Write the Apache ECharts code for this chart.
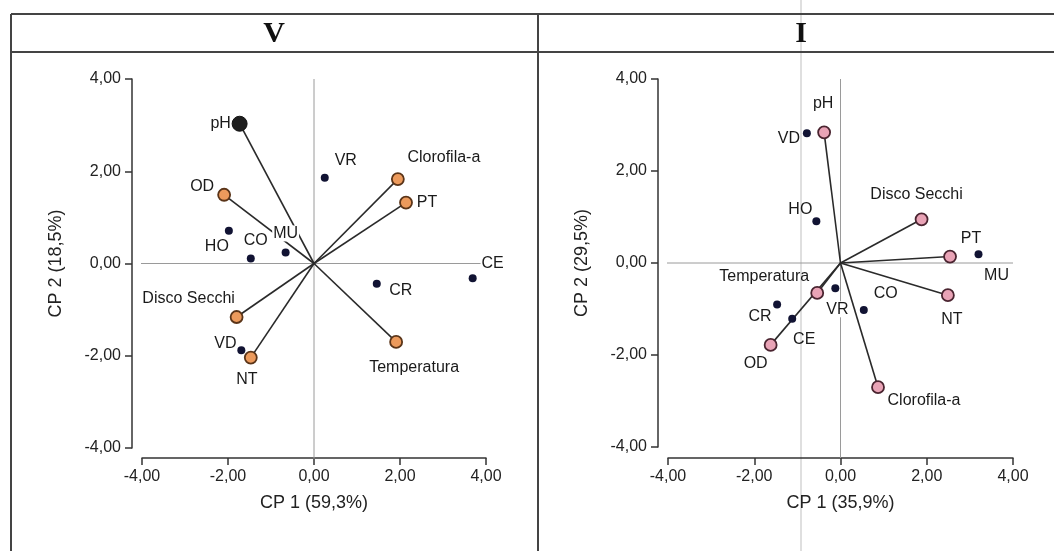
<!DOCTYPE html>
<html><head><meta charset="utf-8">
<script src="https://cdn.jsdelivr.net/npm/echarts@6/dist/echarts.min.js"></script>
<style>html,body{margin:0;padding:0;background:#fff}#c{width:1054px;height:551px}</style>
</head><body><div id="c"></div>
<script>
// ---------- data ----------
const panelTitles = ['V', 'I'];
const xTitles = ['CP 1 (59,3%)', 'CP 1 (35,9%)'];
const yTitles = ['CP 2 (18,5%)', 'CP 2 (29,5%)'];
const axisMin = -4, axisMax = 4, axisStep = 2;

// Panel V : variables (vectors) and sites
const varNamesV = ['pH', 'OD', 'Clorofila-a', 'PT', 'Disco Secchi', 'NT', 'Temperatura'];
const varXV = [-1.73, -2.09, 1.95, 2.14, -1.80, -1.47, 1.91];
const varYV = [3.03, 1.49, 1.83, 1.32, -1.16, -2.04, -1.70];
const siteNamesV = ['VR', 'HO', 'CO', 'MU', 'CR', 'CE', 'VD'];
const siteXV = [0.25, -1.98, -1.47, -0.66, 1.46, 3.69, -1.69];
const siteYV = [1.86, 0.71, 0.11, 0.24, -0.44, -0.32, -1.88];

// Panel I : variables (vectors) and sites
const varNamesI = ['pH', 'Disco Secchi', 'PT', 'NT', 'Clorofila-a', 'Temperatura', 'OD'];
const varXI = [-0.38, 1.88, 2.54, 2.49, 0.87, -0.54, -1.62];
const varYI = [2.84, 0.95, 0.14, -0.70, -2.70, -0.65, -1.78];
const siteNamesI = ['VD', 'HO', 'MU', 'VR', 'CO', 'CR', 'CE'];
const siteXI = [-0.78, -0.56, 3.20, -0.12, 0.54, -1.47, -1.12];
const siteYI = [2.82, 0.91, 0.19, -0.55, -1.02, -0.90, -1.21];

// reference lines at zero (extend to the offset axis lines)
const refLineExtent = [-4.24, 4];

// ---------- styles (positions of labels, colours) ----------
const labelOffsetV = {
  'pH': [-19, 0], 'OD': [-22, -8], 'Clorofila-a': [46, -21], 'PT': [21, 0],
  'Disco Secchi': [-48, -18], 'NT': [-4, 22], 'Temperatura': [18, 26],
  'VR': [21, -17], 'HO': [-12, 16], 'CO': [5, -18], 'MU': [0, -19],
  'CR': [24, 7], 'CE': [20, -15], 'VD': [-16, -7]
};
const labelOffsetI = {
  'pH': [-1, -29], 'Disco Secchi': [-5, -25], 'PT': [21, -18], 'NT': [4, 24],
  'Clorofila-a': [46, 13], 'Temperatura': [-53, -16], 'OD': [-15, 19],
  'VD': [-18, 5], 'HO': [-16, -12], 'MU': [18, 21], 'VR': [2, 21],
  'CO': [22, -16], 'CR': [-17, 12], 'CE': [12, 21]
};
const whiteBgV = ['MU', 'CE'];
const whiteBgI = ['VR'];
const FONT = "'Liberation Sans', Arial, sans-serif";
const varColor = ['#ec9a5c', '#e9a3b6'];
const varBorder = ['#5a3418', '#4a2430'];
const siteColor = '#111333';

const fmt = v => v.toFixed(2).replace('.', ',');

function panelSeries(idx, vNames, vX, vY, sNames, sX, sY, offs, whiteBg) {
  const series = [];
  // zero reference lines
  series.push({
    type: 'line', xAxisIndex: idx, yAxisIndex: idx, clip: false, silent: true,
    symbol: 'none', lineStyle: { color: '#9a9a9a', width: 1 },
    data: [[refLineExtent[0], 0], [refLineExtent[1], 0]], z: 1
  });
  series.push({
    type: 'line', xAxisIndex: idx, yAxisIndex: idx, clip: false, silent: true,
    symbol: 'none', lineStyle: { color: '#9a9a9a', width: 1 },
    data: [[0, refLineExtent[0]], [0, refLineExtent[1]]], z: 1
  });
  // vectors
  vNames.forEach((n, i) => {
    series.push({
      type: 'line', xAxisIndex: idx, yAxisIndex: idx, silent: true, clip: false,
      symbol: 'none', lineStyle: { color: '#2a2a2a', width: 1.6 },
      data: [[0, 0], [vX[i], vY[i]]], z: 2
    });
  });
  const mkLabel = (n) => {
    const l = {
      show: true, position: 'inside', offset: offs[n], formatter: n,
      fontFamily: FONT, fontSize: 16, color: '#1a1a1a', opacity: 1
    };
    if (whiteBg.includes(n)) { l.backgroundColor = '#fff'; l.padding = [0, 1]; }
    return l;
  };
  // variable points
  series.push({
    type: 'scatter', xAxisIndex: idx, yAxisIndex: idx, z: 4,
    data: vNames.map((n, i) => {
      const special = (idx === 0 && n === 'pH');
      return {
        name: n, value: [vX[i], vY[i]],
        symbolSize: special ? 15 : 12,
        itemStyle: special ? { color: '#1e1e1e', borderColor: '#111', borderWidth: 1, opacity: 1 }
          : { color: varColor[idx], borderColor: varBorder[idx], borderWidth: 1.8, opacity: 1 },
        label: mkLabel(n)
      };
    })
  });
  // site points
  series.push({
    type: 'scatter', xAxisIndex: idx, yAxisIndex: idx, z: 4,
    symbolSize: 8, itemStyle: { color: siteColor, opacity: 1 },
    data: sNames.map((n, i) => ({ name: n, value: [sX[i], sY[i]], label: mkLabel(n) }))
  });
  return series;
}

const axisCommon = {
  type: 'value', min: axisMin, max: axisMax, interval: axisStep,
  splitLine: { show: false },
  axisLine: { show: true, onZero: false, lineStyle: { color: '#333', width: 1.5 } },
  axisTick: { show: true, length: 7, lineStyle: { color: '#333', width: 1.5 } },
  axisLabel: { formatter: fmt, fontFamily: FONT, fontSize: 16, color: '#222', margin: 11 },
  nameLocation: 'middle',
  nameTextStyle: { fontFamily: FONT, fontSize: 18, color: '#222' }
};

const grids = [
  { left: 142, right: 568, top: 79, bottom: 103 },
  { left: 668, right: 41, top: 79, bottom: 104 }
];

const option = {
  backgroundColor: '#fff',
  animation: false,
  grid: grids,
  xAxis: [0, 1].map(i => Object.assign({}, axisCommon, {
    gridIndex: i, position: 'bottom', offset: i === 0 ? 10 : 11,
    name: xTitles[i], nameGap: 36
  })),
  yAxis: [0, 1].map(i => Object.assign({}, axisCommon, {
    gridIndex: i, position: 'left', offset: 10,
    name: yTitles[i], nameGap: 67
  })),
  series: [].concat(
    panelSeries(0, varNamesV, varXV, varYV, siteNamesV, siteXV, siteYV, labelOffsetV, whiteBgV),
    panelSeries(1, varNamesI, varXI, varYI, siteNamesI, siteXI, siteYI, labelOffsetI, whiteBgI)
  ),
  graphic: [
    { type: 'line', silent: true, z: 0, shape: { x1: 801, y1: 0, x2: 801, y2: 551 }, style: { stroke: '#d4d4d4', lineWidth: 1.5 } },
    { type: 'line', silent: true, shape: { x1: 11, y1: 14, x2: 1054, y2: 14 }, style: { stroke: '#444', lineWidth: 2 } },
    { type: 'line', silent: true, shape: { x1: 11, y1: 52, x2: 1054, y2: 52 }, style: { stroke: '#444', lineWidth: 2 } },
    { type: 'line', silent: true, shape: { x1: 11, y1: 14, x2: 11, y2: 551 }, style: { stroke: '#444', lineWidth: 2 } },
    { type: 'line', silent: true, shape: { x1: 538, y1: 14, x2: 538, y2: 551 }, style: { stroke: '#444', lineWidth: 2 } },
    { type: 'text', silent: true, x: 274, y: 34, style: { text: panelTitles[0], fontFamily: "'Liberation Serif', 'Times New Roman', serif", fontWeight: 'bold', fontSize: 30, fill: '#111', align: 'center', verticalAlign: 'middle' } },
    { type: 'text', silent: true, x: 801, y: 34, style: { text: panelTitles[1], fontFamily: "'Liberation Serif', 'Times New Roman', serif", fontWeight: 'bold', fontSize: 30, fill: '#111', align: 'center', verticalAlign: 'middle' } }
  ]
};

const chart = echarts.init(document.getElementById('c'), null, { renderer: 'canvas' });
chart.setOption(option);
</script>
</body></html>
